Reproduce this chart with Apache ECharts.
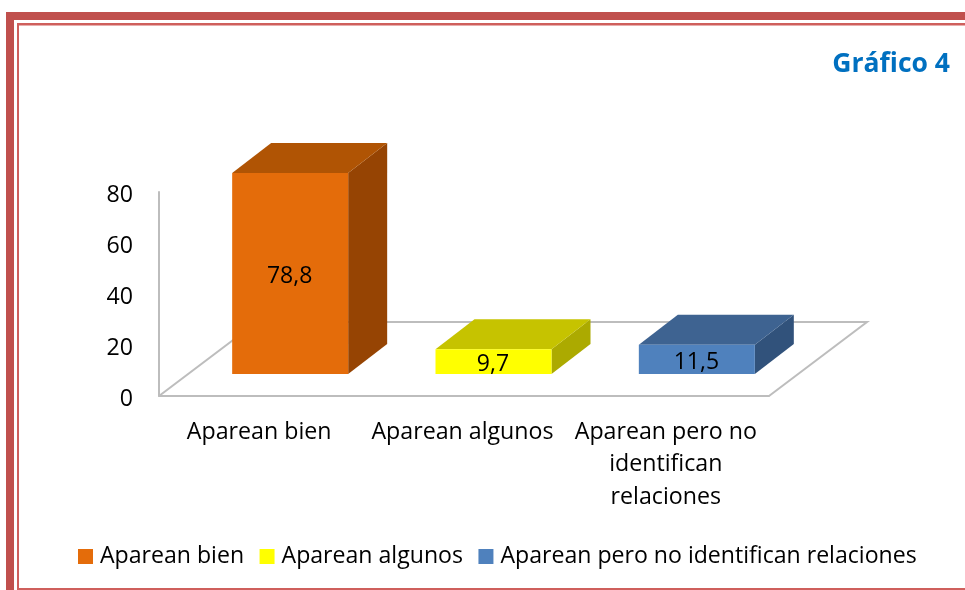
<!DOCTYPE html>
<html>
<head>
<meta charset="utf-8">
<style>html,body{margin:0;padding:0;background:#fff}#c{width:965px;height:590px}</style>
<script src="https://cdn.jsdelivr.net/npm/echarts@6/dist/echarts.min.js"></script>
</head>
<body>
<div id="c"></div>
<script>
var categories = ['Aparean bien', 'Aparean algunos', 'Aparean pero no identifican relaciones'];
var tickLabels = ['Aparean bien', 'Aparean algunos', 'Aparean pero no\nidentifican\nrelaciones'];
var values = [78.8, 9.7, 11.5];
var frontColors = ['#E46C0A', '#FFFF00', '#4F81BD'];
var topColors = ['#B05404', '#C6C300', '#3E6391'];
var sideColors = ['#964403', '#ACAA00', '#31527B'];
var yTicks = {min: 0, max: 80, interval: 20};
var titleText = 'Gráfico 4';

var FONT = '"Open Sans", sans-serif';
var FLOOR_DX = 98, FLOOR_DY = -74;
var BAR_DX = 39, BAR_DY = -30, BAR_SHIFT_X = 29.5, BAR_SHIFT_Y = -22, BAR_W = 116;
var FRAME = '#C0504D', FRAME_THIN = '#CF5F5C';

function renderFloor(params, api) {
  var cs = params.coordSys;
  var x0 = cs.x, x1 = cs.x + cs.width, y = cs.y + cs.height;
  return {
    type: 'polyline',
    shape: {points: [[x0, y], [x0 + FLOOR_DX, y + FLOOR_DY], [x1 + FLOOR_DX, y + FLOOR_DY], [x1, y]]},
    style: {stroke: '#BDBDBD', lineWidth: 2, fill: null}
  };
}

function barRenderer(i) {
  return function (params, api) {
    var v = api.value(1);
    var base = api.coord([api.value(0), 0]);
    var top = api.coord([api.value(0), v]);
    var cx = base[0] + BAR_SHIFT_X;
    var x0 = cx - BAR_W / 2, x1 = cx + BAR_W / 2;
    var yb = base[1] + BAR_SHIFT_Y, yt = top[1] + BAR_SHIFT_Y;
    return {
      type: 'group',
      children: [
        {type: 'polygon', shape: {points: [[x1, yt], [x1 + BAR_DX, yt + BAR_DY], [x1 + BAR_DX, yb + BAR_DY], [x1, yb]]}, style: {fill: sideColors[i]}},
        {type: 'polygon', shape: {points: [[x0, yt], [x0 + BAR_DX, yt + BAR_DY], [x1 + BAR_DX, yt + BAR_DY], [x1, yt]]}, style: {fill: topColors[i]}},
        {type: 'rect', shape: {x: x0, y: yt, width: BAR_W, height: yb - yt}, style: {fill: frontColors[i]}},
        {type: 'text', style: {x: cx - 0.5, y: (yt + yb) / 2 + 3, text: String(v).replace('.', ','), align: 'center', verticalAlign: 'middle', fill: '#000', font: '23px ' + FONT}}
      ]
    };
  };
}

var series = [{
  type: 'custom', name: 'floor', silent: true, z: 1,
  renderItem: renderFloor, data: [[0, 0]], clip: false
}];
categories.forEach(function (name, i) {
  series.push({
    type: 'custom', name: name, z: 2 + i, clip: false,
    itemStyle: {color: frontColors[i]},
    renderItem: barRenderer(i),
    encode: {x: 0, y: 1},
    data: [[i, values[i]]]
  });
});

var chart = echarts.init(document.getElementById('c'), null, {renderer: 'canvas'});
chart.setOption({
  animation: false,
  backgroundColor: '#fff',
  title: {text: titleText, right: 10, top: 46, textStyle: {color: '#0070C0', fontFamily: FONT, fontWeight: 'bold', fontSize: 26.5}},
  grid: {left: 159, top: 192, width: 610, height: 204},
  legend: {
    data: categories, left: 73, top: 540, icon: 'rect', itemWidth: 15, itemHeight: 15, itemGap: 15.5,
    textStyle: {fontFamily: FONT, fontSize: 23.1, color: '#000', padding: [0, 0, 0, 2]},
    selectedMode: false
  },
  xAxis: {
    type: 'category', data: categories,
    axisLine: {show: true, lineStyle: {color: '#BDBDBD', width: 2}},
    axisTick: {show: false}, splitLine: {show: false},
    axisLabel: {
      interval: 0, margin: 20, lineHeight: 32.5, padding: [0, 3, 0, 0], fontFamily: FONT, fontSize: 23.2, color: '#000',
      formatter: function (v, i) { return tickLabels[i]; }
    }
  },
  yAxis: {
    type: 'value', min: yTicks.min, max: yTicks.max, interval: yTicks.interval,
    axisLine: {show: true, lineStyle: {color: '#BDBDBD', width: 2}},
    axisTick: {show: false}, splitLine: {show: false},
    axisLabel: {
      margin: 26, color: '#000', fontFamily: FONT, fontSize: 23.2,
      formatter: function (v) { return '{a|' + v + '}'; },
      rich: {a: {fontFamily: FONT, fontSize: 23.2, color: '#000', padding: [6, 0, 0, 0]}}
    }
  },
  graphic: [
    {type: 'rect', silent: true, shape: {x: 6, y: 12, width: 959, height: 8}, style: {fill: FRAME}},
    {type: 'rect', silent: true, shape: {x: 6, y: 12, width: 8, height: 578}, style: {fill: FRAME}},
    {type: 'rect', silent: true, shape: {x: 17, y: 23, width: 948, height: 2.5}, style: {fill: FRAME_THIN}},
    {type: 'rect', silent: true, shape: {x: 17, y: 23, width: 2, height: 567}, style: {fill: FRAME_THIN}},
    {type: 'rect', silent: true, shape: {x: 17, y: 588, width: 948, height: 2}, style: {fill: FRAME_THIN}}
  ],
  series: series
});
</script>
</body>
</html>
